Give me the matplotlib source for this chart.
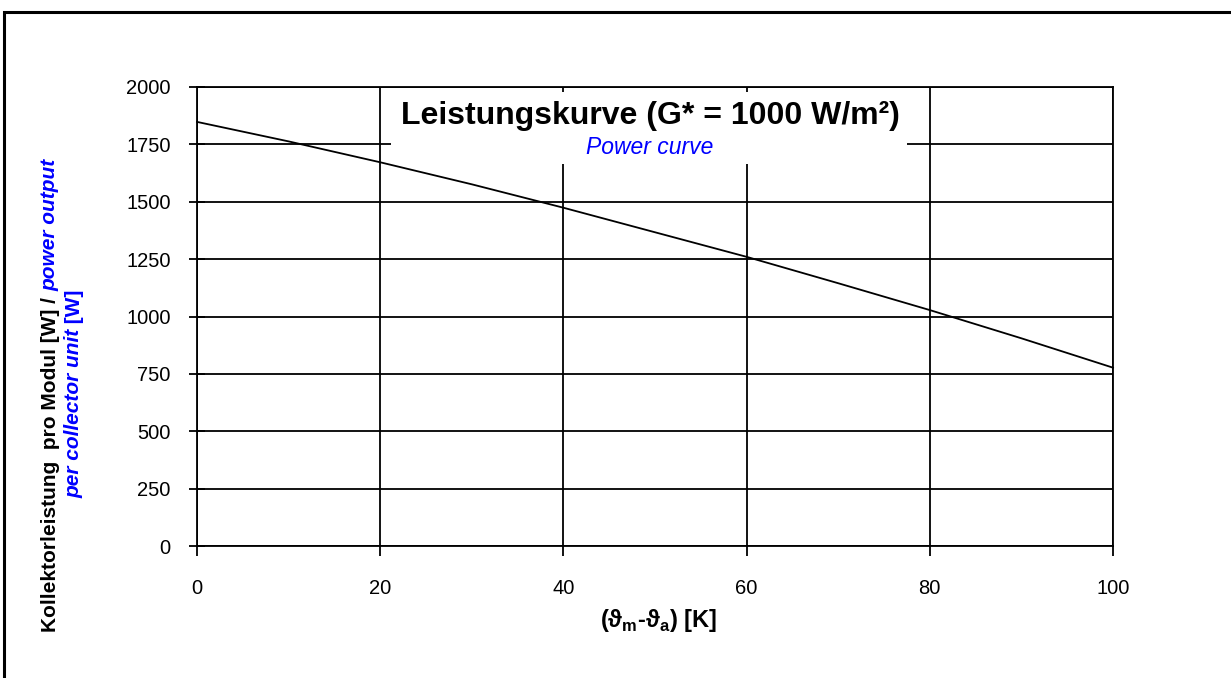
import matplotlib
matplotlib.use("Agg")
import matplotlib.pyplot as plt
from matplotlib.patches import Rectangle

# ---- data ----
dT = [0, 10, 20, 30, 40, 50, 60, 70, 80, 90, 100]
power = [1848, 1763, 1672, 1576, 1474, 1367, 1260, 1145, 1028, 905, 777]
x_ticks = [0, 20, 40, 60, 80, 100]
y_ticks = [0, 250, 500, 750, 1000, 1250, 1500, 1750, 2000]

title_de = "Leistungskurve (G* = 1000 W/m²)"
title_en = "Power curve"
ylab1 = [("Kollektorleistung  pro Modul [W] / ", "black", "normal"),
         ("power output", "#0000FF", "italic")]
ylab2 = [("per collector unit", "#0000FF", "italic"),
         (" [W]", "#0000FF", "normal")]

plt.rcParams['font.family'] = ['Liberation Sans', 'DejaVu Sans']
plt.rcParams['mathtext.fontset'] = 'custom'
plt.rcParams['mathtext.rm'] = 'Liberation Sans:bold'
plt.rcParams['mathtext.bf'] = 'Liberation Sans:bold'

W, H = 1231, 678
fig = plt.figure(figsize=(W / 100, H / 100), dpi=100)

def fx(px):
    return px / W

def fy(py):
    return 1 - py / H

L, R, T, B = 197, 1113, 87, 546
ax = fig.add_axes([fx(L), fy(B), fx(R - L), (B - T) / H])
ax.plot(dT, power, color='black', lw=1.3, zorder=5, clip_on=False)
ax.set_xlim(0, 100)
ax.set_ylim(0, 2000)
ax.set_xticks(x_ticks)
ax.set_yticks(y_ticks)
ax.grid(True, color='black', lw=1.3, zorder=1)
ax.set_axisbelow(True)
for s in ax.spines.values():
    s.set_color('black')
    s.set_linewidth(1.3)
ax.tick_params(axis='y', direction='inout', length=12, width=1.3, pad=13, labelsize=14.5)
ax.tick_params(axis='x', direction='out', length=7, width=1.3, pad=17, labelsize=14.5)

# white title box
fig.patches.append(Rectangle((fx(391), fy(164)), fx(907 - 391), (164 - 92) / H,
                             transform=fig.transFigure, facecolor='white',
                             edgecolor='none', zorder=3))
fig.text(fx(650), fy(116), title_de, ha='center', va='center', fontsize=23,
         fontweight='bold', zorder=6)
fig.text(fx(650), fy(147), title_en, ha='center', va='center', fontsize=16.5,
         style='italic', color='#0000FF', zorder=6)

# x label
fig.text(fx(658), fy(620), r"(ϑ$_\mathregular{m}$-ϑ$_\mathregular{a}$) [K]",
         ha='center', va='center', fontsize=17, fontweight='bold')

# y label (two lines, mixed colours/styles)
fig.canvas.draw()
renderer = fig.canvas.get_renderer()

def put_line(pieces, x_px, y_start_px, fs):
    y = y_start_px
    for txt, col, sty in pieces:
        fig.text(fx(x_px), fy(y), txt, rotation=90, rotation_mode='anchor',
                 ha='left', va='baseline', fontsize=fs, fontweight='bold',
                 style=sty, color=col)
        tmp = fig.text(0, 0, txt.replace(' ', '\u00a0') + '|', fontsize=fs,
                       fontweight='bold', style=sty)
        bar = fig.text(0, 0, '|', fontsize=fs, fontweight='bold', style=sty)
        w = tmp.get_window_extent(renderer).width - bar.get_window_extent(renderer).width
        tmp.remove()
        bar.remove()
        y -= w

put_line(ylab1, 55.5, 632, 15)
put_line(ylab2, 79.5, 498, 15)

# outer border
fig.patches.append(Rectangle((fx(4), fy(H + 10)), fx(W + 10), (H + 10 - 12) / H,
                             transform=fig.transFigure, facecolor='none',
                             edgecolor='black', lw=2.2, zorder=0))

fig.savefig('out.png', dpi=100)
